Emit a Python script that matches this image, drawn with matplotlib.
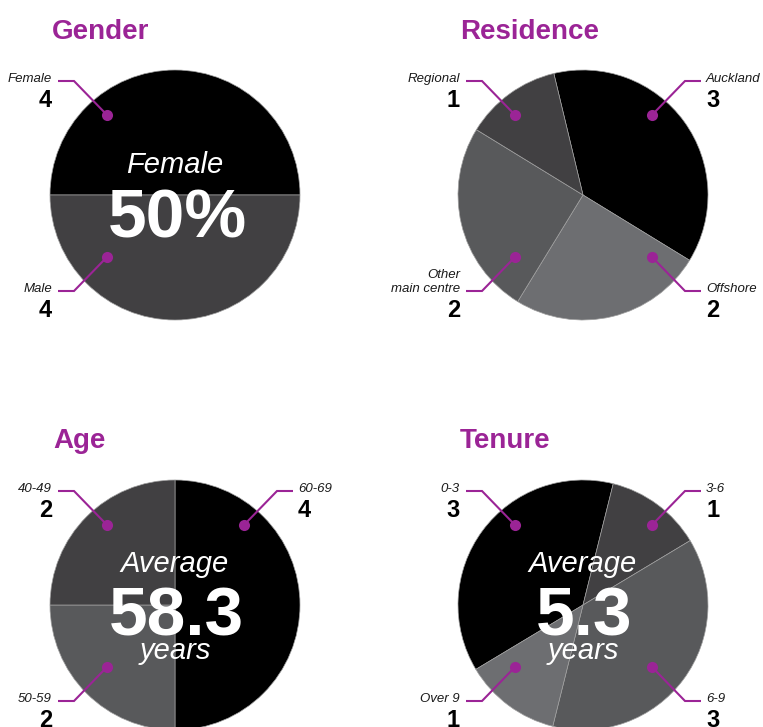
import matplotlib
matplotlib.use("Agg")
import matplotlib.pyplot as plt

# ---------------- data ----------------
gender_labels = ["Female", "Male"]
gender_values = [4, 4]

residence_labels = ["Auckland", "Offshore", "Other\nmain centre", "Regional"]
residence_values = [3, 2, 2, 1]

age_labels = ["60-69", "50-59", "40-49"]
age_values = [4, 2, 2]

tenure_labels = ["0-3", "3-6", "6-9", "Over 9"]
tenure_values = [3, 1, 3, 1]

# ---------------- style ----------------
W, H = 763, 727
DPI = 100
PURPLE = "#9b2496"
FONT = "Liberation Sans"
plt.rcParams["font.family"] = [FONT, "DejaVu Sans"]

fig = plt.figure(figsize=(W / DPI, H / DPI), dpi=DPI)
fig.patch.set_facecolor("white")

R = 125  # pie radius in px

overlay = fig.add_axes([0, 0, 1, 1], zorder=5)
overlay.set_xlim(0, W)
overlay.set_ylim(H, 0)
overlay.axis("off")
overlay.patch.set_alpha(0)


def add_pie(cx, cy, values, colors, startangle):
    ax = fig.add_axes([(cx - R) / W, (H - (cy + R)) / H, 2 * R / W, 2 * R / H])
    wedges, _ = ax.pie(values, colors=colors, startangle=startangle,
                       counterclock=False, radius=1,
                       wedgeprops=dict(edgecolor="#a0a0a0", linewidth=0.5))
    for w in wedges:
        w.set_clip_on(False)
    ax.set_xlim(-1, 1)
    ax.set_ylim(-1, 1)
    ax.set_aspect("equal")
    ax.axis("off")
    return ax


def add_label(cx, cy, quad, name, value):
    dx = -68 if quad[1] == "l" else 69
    dy = -80 if quad[0] == "u" else 62
    px, py = cx + dx, cy + dy
    sx = -1 if quad[1] == "l" else 1
    sy = -1 if quad[0] == "u" else 1
    ex, ey = px + sx * 33, py + sy * 34
    hx = ex + sx * 16
    overlay.plot([px, ex, hx], [py, ey, ey], color=PURPLE, lw=1.5,
                 solid_joinstyle="miter", solid_capstyle="butt")
    overlay.plot([px], [py], "o", color=PURPLE, ms=8, mec="none")
    tx = hx + sx * 5 if sx > 0 else hx - 6
    ha = "left" if sx > 0 else "right"
    overlay.text(tx, ey + 1, name, ha=ha, va="baseline", fontsize=9.5,
                 style="italic", color="#1a1a1a", linespacing=1.2)
    overlay.text(tx, ey + 26, str(value), ha=ha, va="baseline", fontsize=17,
                 fontweight="bold", color="black")


def add_title(cx, cy_base, text):
    overlay.text(cx - 123, cy_base, text, ha="left", va="baseline",
                 fontsize=20, fontweight="bold", color=PURPLE)


# ---------------- Gender ----------------
gcx, gcy = 175, 195
add_pie(gcx, gcy, gender_values, ["#000000", "#414042"], 180)
add_title(gcx, 39, "Gender")
for q, n, v in zip(["ul", "ll"], gender_labels, gender_values):
    add_label(gcx, gcy, q, n, v)
female_pct = 100 * gender_values[0] / sum(gender_values)
overlay.text(gcx, gcy - 22, "Female", ha="center", va="baseline",
             fontsize=21, style="italic", color="white")
overlay.text(gcx + 2, gcy + 42, f"{female_pct:.0f}%", ha="center",
             va="baseline", fontsize=50, fontweight="bold", color="white")

# ---------------- Residence ----------------
rcx, rcy = 583, 195
add_pie(rcx, rcy, residence_values,
        ["#000000", "#6d6e71", "#58595b", "#414042"], 103.5)
add_title(rcx, 39, "Residence")
for q, n, v in zip(["ur", "lr", "ll", "ul"], residence_labels, residence_values):
    add_label(rcx, rcy, q, n, v)

# ---------------- Age ----------------
acx, acy = 175, 605
add_pie(acx, acy, age_values, ["#000000", "#58595b", "#414042"], 90)
add_title(acx + 1, 448, "Age")
for q, n, v in zip(["ur", "ll", "ul"], age_labels, age_values):
    add_label(acx, acy, q, n, v)
overlay.text(acx, acy - 33, "Average", ha="center", va="baseline",
             fontsize=21, style="italic", color="white")
overlay.text(acx + 1, acy + 30, "58.3", ha="center", va="baseline",
             fontsize=50, fontweight="bold", color="white")
overlay.text(acx, acy + 54, "years", ha="center", va="baseline",
             fontsize=21, style="italic", color="white")

# ---------------- Tenure ----------------
tcx, tcy = 583, 605
add_pie(tcx, tcy, tenure_values,
        ["#000000", "#414042", "#58595b", "#6d6e71"], 211)
add_title(tcx, 448, "Tenure")
for q, n, v in zip(["ul", "ur", "lr", "ll"], tenure_labels, tenure_values):
    add_label(tcx, tcy, q, n, v)
overlay.text(tcx, tcy - 33, "Average", ha="center", va="baseline",
             fontsize=21, style="italic", color="white")
overlay.text(tcx + 1, tcy + 30, "5.3", ha="center", va="baseline",
             fontsize=50, fontweight="bold", color="white")
overlay.text(tcx, tcy + 54, "years", ha="center", va="baseline",
             fontsize=21, style="italic", color="white")

fig.savefig("out.png", dpi=DPI, facecolor="white")
